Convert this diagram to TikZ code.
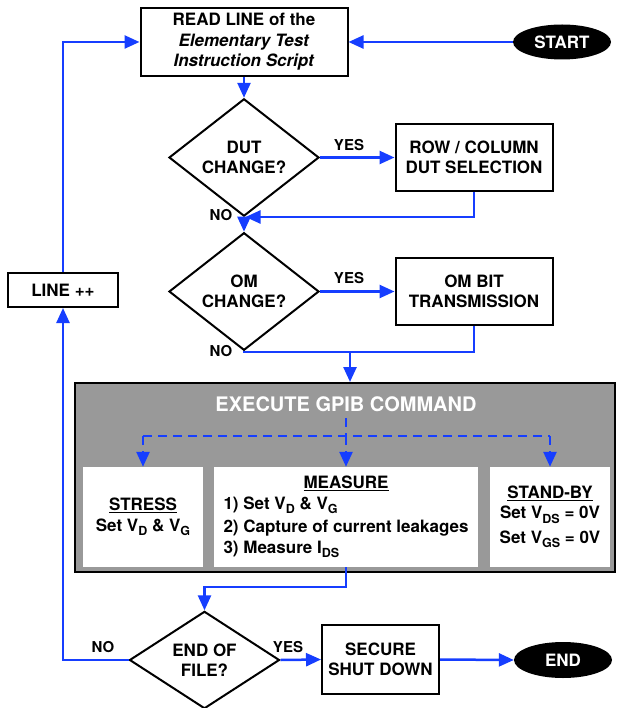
\documentclass[tikz,border=0pt]{standalone}
\usepackage{fontspec}
\setmainfont{TeX Gyre Heros}
\usetikzlibrary{shapes.geometric,arrows.meta}
\definecolor{flowblue}{RGB}{22,62,255}
\definecolor{gpibgray}{RGB}{153,153,153}
\newcommand\lowsub[1]{\raisebox{-4.5pt}{\fontsize{12.5}{12.5}\selectfont #1}}
\begin{document}
    \begin{tikzpicture}[x=1pt, y=-1pt,
        every node/.style={font=\fontsize{17}{20.5}\selectfont\bfseries, align=center, inner sep=0pt},
        box/.style={draw, line width=2pt, fill=white, minimum width=157pt, minimum height=67pt},
        decision/.style={shape=diamond, draw, line width=2pt, minimum width=150pt, minimum height=91pt},
        terminal/.style={shape=ellipse, fill=black, text=white, minimum width=98pt, minimum height=36pt},
        inner/.style={fill=white, minimum width=120pt, minimum height=100pt},
        wire/.style={draw=flowblue, line width=2.5pt},
        flow/.style={wire, -{Triangle[length=15pt, width=13pt]}},
        dashwire/.style={wire, dash pattern=on 9pt off 6pt},
        dashflow/.style={flow, dash pattern=on 9pt off 6pt},
        lbl/.style={font=\fontsize{15}{15}\selectfont\bfseries}]

        \useasboundingbox (0, 0) rectangle (616, 708);

        \node[box, minimum width=207pt, minimum height=68pt] (read) at (244, 42)
            {READ LINE of the\\ \textit{Elementary Test}\\ \textit{Instruction Script}};
        \node[terminal, minimum height=35pt] (start) at (562, 42) {START};

        \node[decision] (dut) at (244, 157.5) {DUT\\ CHANGE?};
        \node[box] (rowsel) at (474, 157.5) {ROW / COLUMN\\ DUT SELECTION};

        \node[decision] (om) at (244, 291.5) {OM\\ CHANGE?};
        \node[box] (ombit) at (474, 291.5) {OM BIT\\ TRANSMISSION};

        \node[box, minimum width=110pt, minimum height=34pt] (lineinc) at (63, 290) {LINE ++};

        \node[draw, line width=2pt, fill=gpibgray, minimum width=540pt, minimum height=189pt] (gpib) at (345, 477.5) {};
        \node[text=white, font=\fontsize{20}{24}\selectfont\bfseries] (gpibtitle) at (346, 404) {EXECUTE GPIB COMMAND};

        \node[inner] (stress) at (143, 517)
            {\underline{STRESS}\\ Set V\lowsub{D} \& V\lowsub{G}};
        \node[inner, minimum width=264pt] (measure) at (346, 517)
            {\begin{tabular}{@{}l@{}}
                \multicolumn{1}{@{}c@{}}{\underline{MEASURE}}\\
                1) Set V\lowsub{D} \& V\lowsub{G}\\[3pt]
                2) Capture of current leakages\\
                3) Measure I\lowsub{DS}
            \end{tabular}};
        \node[inner] (standby) at (550, 517)
            {\underline{STAND-BY}\\ Set V\lowsub{DS} = 0V\\[4pt] Set V\lowsub{GS} = 0V};

        \node[decision, minimum height=94pt] (eof) at (204.5, 660) {END OF\\ FILE?};
        \node[box, minimum width=117pt, minimum height=69pt] (secure) at (380.5, 659.5) {SECURE\\ SHUT DOWN};
        \node[terminal] (finish) at (563, 660) {END};

        \coordinate (mergeA) at (245.5, 217);
        \coordinate (joinB) at (350, 352);
        \coordinate (forktop) at (346, 418);
        \coordinate (fork) at (346, 436);
        \coordinate (bendC) at (346, 587);

        \draw[flow] (start.west) -- (read.east);
        \draw[flow] (read.south) -- (dut.north);
        \draw[flow] (dut.east) -- (rowsel.west);
        \draw[flow] (rowsel.south) |- (mergeA);
        \draw[flow] (dut.south) -- (om.north);
        \draw[flow] (om.east) -- (ombit.west);

        \draw[wire] (om.south) -- (om.south |- joinB) -- (ombit.south |- joinB) -- (ombit.south);
        \draw[flow] (joinB) -- (joinB |- gpib.north);

        \draw[dashwire] (forktop) -- (fork);
        \draw[dashwire] (stress.north |- fork) -- (standby.north |- fork);
        \draw[dashflow] (stress.north |- fork) -- (stress.north);
        \draw[dashflow] (fork) -- (measure.north);
        \draw[dashflow] (standby.north |- fork) -- (standby.north);

        \draw[flow] (measure.south) -- (bendC) -| (eof.north);
        \draw[flow] (eof.east) -- (secure.west);
        \draw[flow] (secure.east) -- (finish.west);
        \draw[flow] (eof.west) -| (lineinc.south);
        \draw[flow] (lineinc.north) |- (read.west);

        \node[lbl] (yesA) at (349, 145) {YES};
        \node[lbl] (noA) at (221, 215) {NO};
        \node[lbl] (yesB) at (349, 278) {YES};
        \node[lbl] (noB) at (221, 351) {NO};
        \node[lbl] (noC) at (103, 647) {NO};
        \node[lbl] (yesC) at (288, 647) {YES};

    \end{tikzpicture}
\end{document}
